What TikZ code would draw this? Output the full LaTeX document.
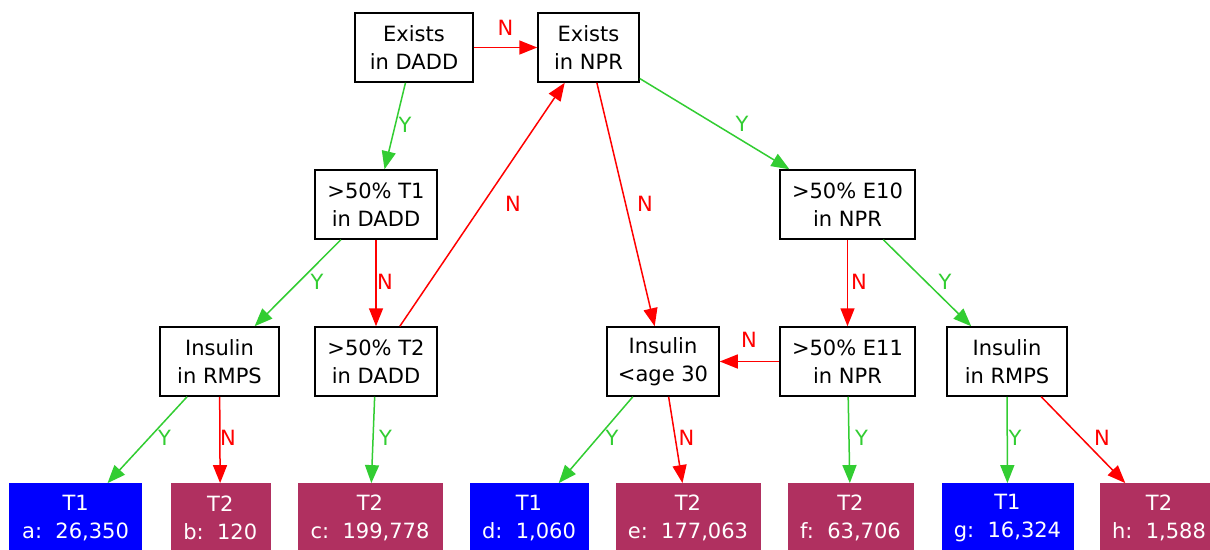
\documentclass[tikz,border=0pt]{standalone}
\usepackage{fontspec}
\setmainfont{DejaVu Sans}
\usetikzlibrary{arrows.meta}
\definecolor{gvgreen}{HTML}{32CD32}
\definecolor{gvmaroon}{HTML}{B03060}
\definecolor{gvblue}{HTML}{0000FF}
\begin{document}
\begin{tikzpicture}[x=1pt,y=-1pt,
  every node/.style={font=\fontsize{21}{28}\selectfont, inner sep=0pt, align=center},
  test/.style={draw=black, line width=1.5pt, fill=white, minimum height=69pt},
  leafb/.style={fill=gvblue, draw=gvblue, text=white, minimum height=69pt},
  leafm/.style={fill=gvmaroon, draw=gvmaroon, text=white, minimum height=69pt},
  yes/.style={draw=gvgreen, line width=1.5pt, -{Triangle[length=18pt,width=14pt]}},
  no/.style={draw=red, line width=1.5pt, -{Triangle[length=18pt,width=14pt]}},
  ylab/.style={text=gvgreen},
  nlab/.style={text=red}]
\useasboundingbox (0,0) rectangle (1210,549);
\fill[white] (0,0) rectangle (1210,549);
% decision nodes
\node[test, minimum width=118pt] (dadd) at (414,47.5) {Exists\\in DADD};
\node[test, minimum width=101pt] (npr) at (588.5,47.5) {Exists\\in NPR};
\node[test, minimum width=122pt] (t1) at (376,204.5) {>50\% T1\\in DADD};
\node[test, minimum width=135pt] (e10) at (847.5,204.5) {>50\% E10\\in NPR};
\node[test, minimum width=119pt] (insl) at (219.5,361.5) {Insulin\\in RMPS};
\node[test, minimum width=122pt] (t2) at (376,361.5) {>50\% T2\\in DADD};
\node[test, minimum width=112pt] (age) at (663,361.5) {Insulin\\<age 30};
\node[test, minimum width=135pt] (e11) at (847.5,361.5) {>50\% E11\\in NPR};
\node[test, minimum width=120pt] (insr) at (1007,361.5) {Insulin\\in RMPS};
% leaves
\node[leafb, minimum width=132pt] (a) at (75.6,517.8) {T1\\a:~~26,350};
\node[leafm, minimum width=99pt] (b) at (220.3,517.8) {T2\\b:~~120};
\node[leafm, minimum width=144pt] (c) at (370,517.8) {T2\\c:~~199,778};
\node[leafb, minimum width=118pt] (d) at (529,517.8) {T1\\d:~~1,060};
\node[leafm, minimum width=144pt] (e) at (688,517.8) {T2\\e:~~177,063};
\node[leafm, minimum width=125pt] (f) at (850.5,517.8) {T2\\f:~~63,706};
\node[leafb, minimum width=131pt] (g) at (1007.5,517.8) {T1\\g:~~16,324};
\node[leafm, minimum width=118pt] (h) at (1159,517.8) {T2\\h:~~1,588};
% edges
\draw[no] (dadd) -- (npr);
\draw[yes] (dadd) -- (t1);
\draw[no] (t2) -- (npr);
\draw[no] (npr) -- (age);
\draw[yes] (npr) -- (e10);
\draw[yes] (t1) -- (insl);
\draw[no] (t1) -- (t2);
\draw[no] (e10) -- (e11);
\draw[yes] (e10) -- (insr);
\draw[no] (e11) -- (age);
\draw[yes] (insl) -- (a);
\draw[no] (insl) -- (b);
\draw[yes] (t2) -- (c);
\draw[yes] (age) -- (d);
\draw[no] (age) -- (e);
\draw[yes] (e11) -- (f);
\draw[yes] (insr) -- (g);
\draw[no] (insr) -- (h);
% edge labels
\node[nlab] (l1) at (505.5,27.5) {N};
\node[ylab] (l2) at (405,125) {Y};
\node[nlab] (l3) at (513,204) {N};
\node[nlab] (l4) at (645,204) {N};
\node[ylab] (l5) at (742,124) {Y};
\node[ylab] (l6) at (317,282) {Y};
\node[nlab] (l7) at (385,282) {N};
\node[nlab] (l8) at (859,282) {N};
\node[ylab] (l9) at (945,282) {Y};
\node[nlab] (l10) at (749,340) {N};
\node[ylab] (l11) at (164.5,438) {Y};
\node[nlab] (l12) at (228,438) {N};
\node[ylab] (l13) at (385.5,438) {Y};
\node[ylab] (l14) at (612,438) {Y};
\node[nlab] (l15) at (686.5,438) {N};
\node[ylab] (l16) at (861.5,438) {Y};
\node[ylab] (l17) at (1015,438) {Y};
\node[nlab] (l18) at (1102,438) {N};
\end{tikzpicture}
\end{document}
